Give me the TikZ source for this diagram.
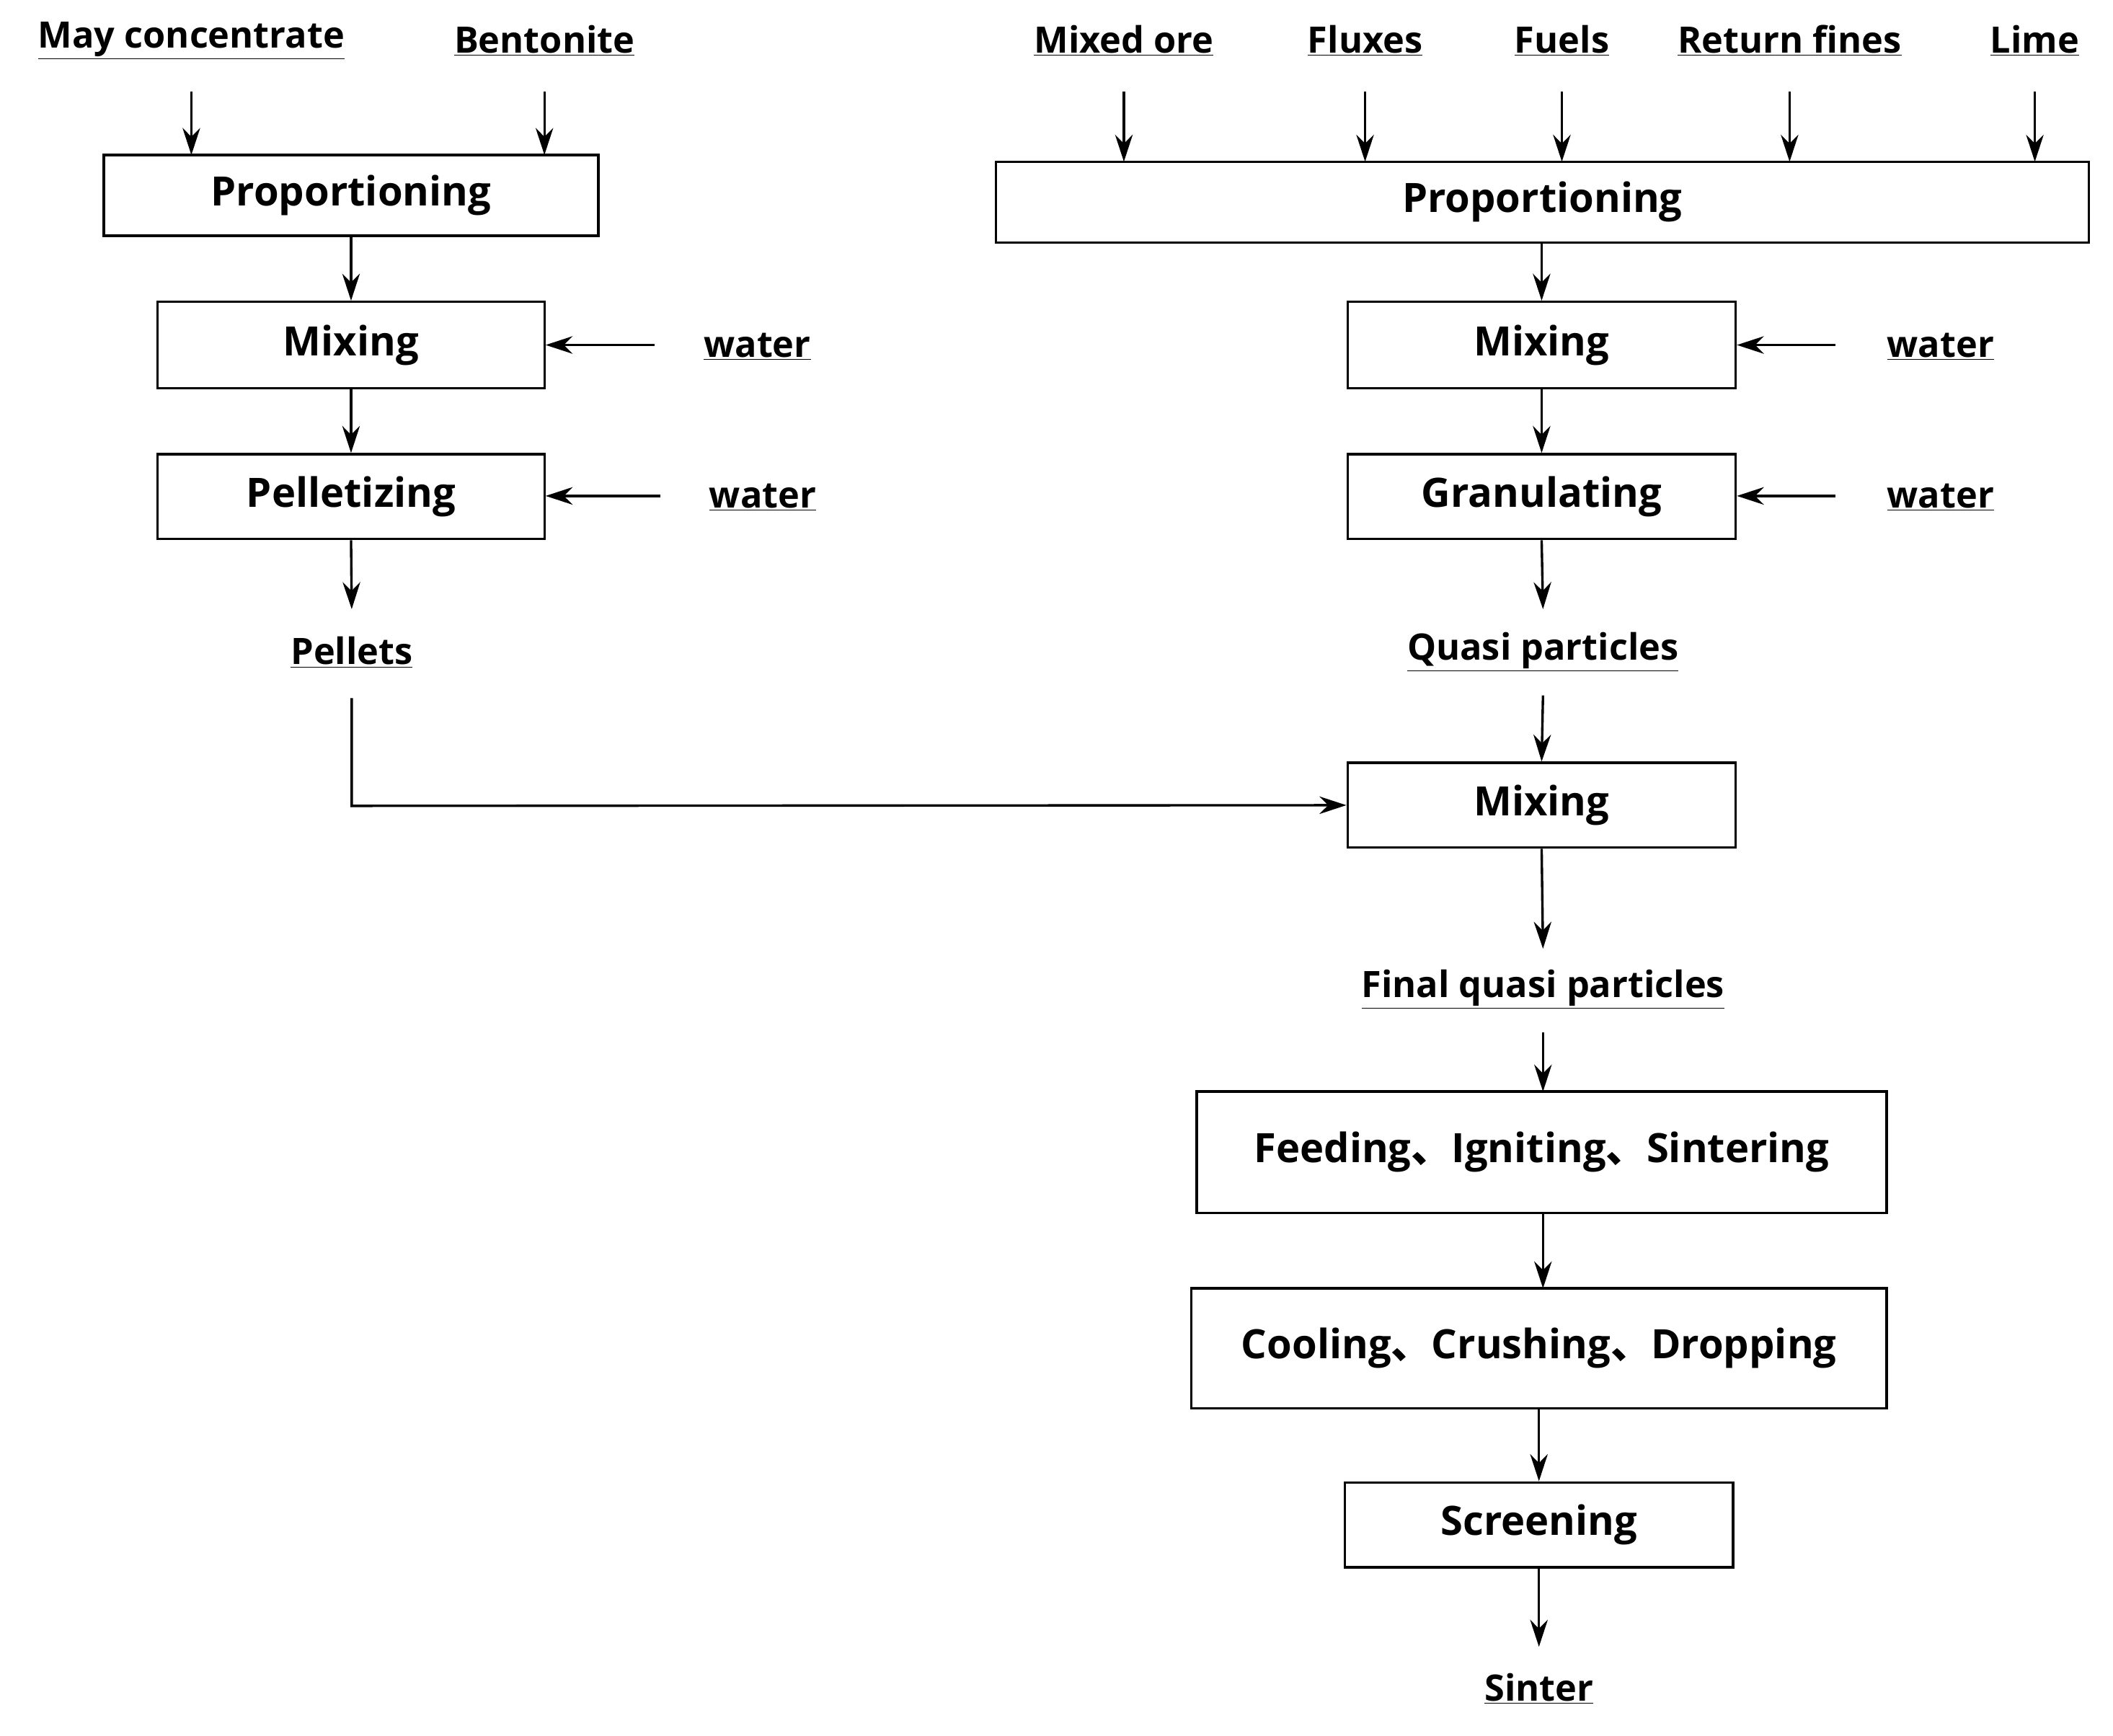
\documentclass[tikz,border=0pt]{standalone}
\usepackage{fontspec}
\setmainfont{Open Sans}
\newfontfamily\cjk{Noto Sans CJK SC}
\newcommand{\dun}{{\cjk 、}}
\usetikzlibrary{arrows.meta}
\begin{document}
\begin{tikzpicture}[x=1pt,y=-1pt,
  box/.style={draw,line width=1.8pt,inner sep=0pt,font=\fontsize{30}{32}\selectfont\bfseries},
  lab/.style={font=\fontsize{27}{30}\selectfont\bfseries,inner sep=0pt},
  ar/.style={line width=1.8pt,-{Stealth[length=20pt,width=13pt]}}]
\useasboundingbox (0,0) rectangle (1568,1288);
\newcommand{\bx}[6]{\node[box,minimum width=#4-#2 pt,minimum height=#5-#3 pt] (#1) at ({(#2+#4)/2},{(#3+#5)/2}) {#6};}
\newcommand{\lb}[4]{\node[lab] (#1) at (#2,#3) {\underline{#4}};}
% left
\lb{mc}{142}{30}{May concentrate}
\lb{ben}{404}{30}{Bentonite}
\bx{lp}{77}{115}{444}{175}{Proportioning}
\bx{lm}{117}{224}{404}{288}{Mixing}
\bx{lpe}{117}{337}{404}{400}{Pelletizing}
\lb{w1}{562}{257}{water}
\lb{w2}{566}{369}{water}
\lb{pel}{261}{484}{Pellets}
\coordinate (mca) at (142,68); \coordinate (bea) at (404,68);
\draw[ar] (mca) -- (142,115);
\draw[ar] (bea) -- (404,115);
\draw[ar] (lp.south) -- (lm.north);
\draw[ar] (lm.south) -- (lpe.north);
\draw[ar] (lpe.south) -- (261,452);
\coordinate (w1a) at (486,256); \coordinate (w2a) at (490,368);
\draw[ar] (w1a) -- (w1a -| lm.east);
\draw[ar] (w2a) -- (w2a -| lpe.east);
% right
\lb{mo}{834}{30}{Mixed ore}
\lb{fl}{1013}{30}{Fluxes}
\lb{fu}{1159}{30}{Fuels}
\lb{rf}{1328}{30}{Return fines}
\lb{li}{1510}{30}{Lime}
\foreach \x in {834,1013,1159,1328,1510}{\coordinate (t) at (\x,68); \draw[ar] (t) -- (\x,120);}
\bx{rp}{739}{120}{1550}{180}{Proportioning}
\bx{rm}{1000}{224}{1288}{288}{Mixing}
\bx{gr}{1000}{337}{1288}{400}{Granulating}
\lb{w3}{1440}{257}{water}
\lb{w4}{1440}{369}{water}
\coordinate (w3a) at (1362,256); \coordinate (w4a) at (1362,368);
\draw[ar] (w3a) -- (w3a -| rm.east);
\draw[ar] (w4a) -- (w4a -| gr.east);
\lb{qp}{1145}{484}{Quasi particles}
\bx{mx}{1000}{566}{1288}{629}{Mixing}
\lb{fq}{1145}{734}{Final quasi particles}
\bx{fe}{888}{810}{1400}{900}{Feeding\dun Igniting\dun Sintering}
\bx{co}{884}{956}{1400}{1045}{Cooling\dun Crushing\dun Dropping}
\bx{sc}{998}{1100}{1286}{1163}{Screening}
\lb{si}{1142}{1253}{Sinter}
\draw[ar] (rp.south -| rm.north) -- (rm.north);
\draw[ar] (rm.south) -- (gr.north);
\draw[ar] (gr.south) -- (1145,452);
\draw[ar] (1145,516) -- (mx.north);
\draw[ar] (mx.south) -- (1145,704);
\draw[ar] (1145,766) -- (1145,810);
\draw[ar] (1145,900) -- (1145,956);
\draw[ar] (1142,1045) -- (sc.north);
\draw[ar] (sc.south) -- (1142,1222);
\draw[ar] (261,518) -- (261,598) -- (mx.west);
\end{tikzpicture}
\end{document}
